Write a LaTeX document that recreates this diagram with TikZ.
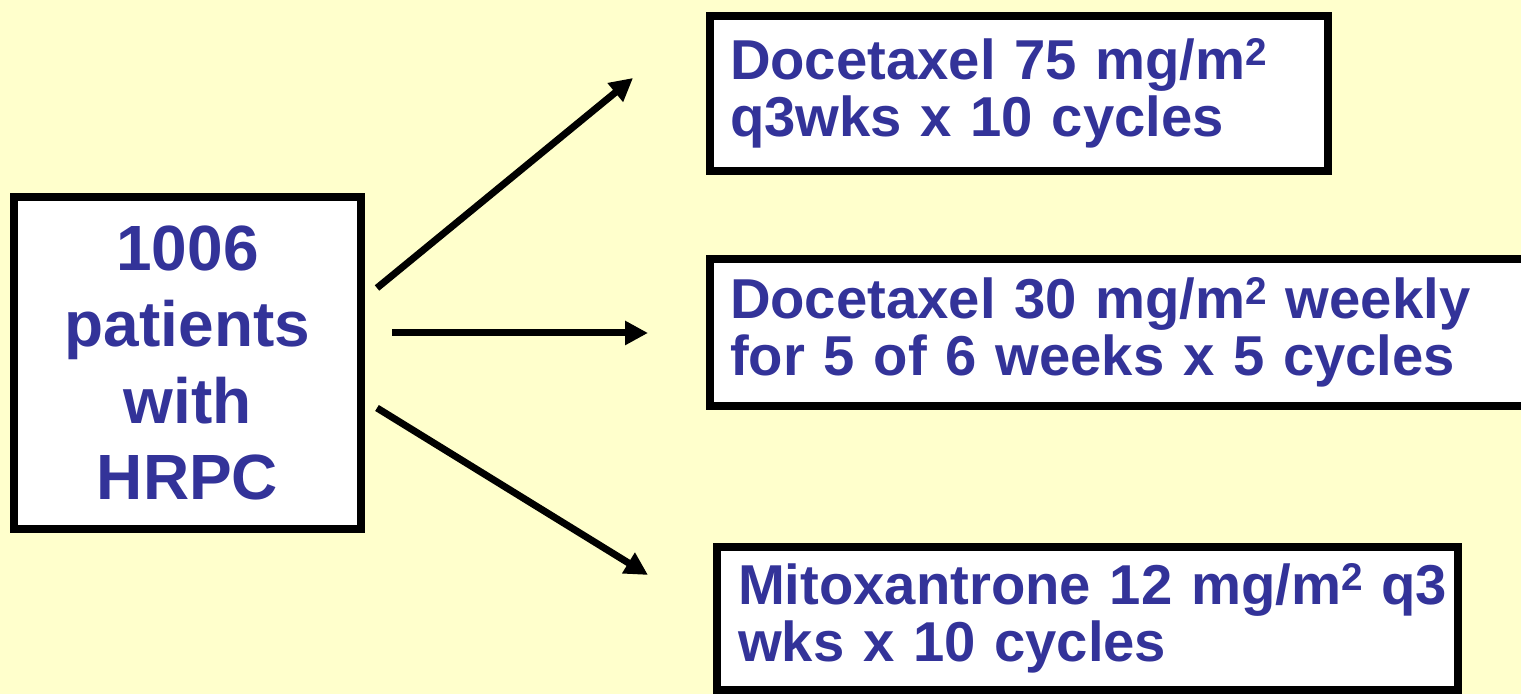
\documentclass[tikz,border=0pt]{standalone}
\usepackage{fontspec}
\setmainfont{Liberation Sans}
\usetikzlibrary{arrows.meta}
\definecolor{slideyellow}{HTML}{FFFFCC}
\definecolor{textblue}{HTML}{333399}
\newcommand{\sqtwo}{\raisebox{4pt}{\fontsize{11}{11}\selectfont 2}}
\tikzset{
  armbox/.style={draw=black,line width=0.08cm,fill=white,outer sep=0pt,anchor=west,
    align=left,inner xsep=0.2cm,inner ysep=0pt,text=textblue,
    font=\bfseries\fontsize{16}{16.2}\selectfont},
  arm/.style={line width=0.07cm,->}
}
\begin{document}
\begin{tikzpicture}[>={Triangle[length=0.23cm,width=0.23cm]}]
\fill [slideyellow] (0,0) rectangle (15.21,6.94);
\clip (0,0) rectangle (15.21,6.94);

\node [draw,line width=0.08cm,fill=white,outer sep=0pt,minimum width=3.47cm,minimum height=3.32cm,
  inner sep=0pt,align=center,text=textblue,font=\bfseries\fontsize{18.2}{21.8}\selectfont]
  (hrpc) at (1.875,3.31) {1006\\patients\\with\\HRPC};

\node [armbox,text width=5.78cm,minimum height=1.55cm] (arm1) at (7.10,6.005)
  {Docetaxel 75 mg/m\sqtwo\\q3wks x 10 cycles};
\node [armbox,text width=7.8cm,minimum height=1.47cm] (arm2) at (7.10,3.615)
  {Docetaxel 30 mg/m\sqtwo{} weekly\\for 5 of 6 weeks x 5 cycles};
\node [armbox,inner xsep=0.21cm,text width=6.99cm,minimum height=1.43cm] (arm3) at (7.17,0.755)
  {\mbox{Mitoxantrone 12 mg/m\sqtwo{} q3}\\wks x 10 cycles};

\coordinate (up0) at (3.77,4.06);
\coordinate (up1) at (6.33,6.16);
\coordinate (mid0) at (3.92,3.61);
\coordinate (mid1) at (6.48,3.61);
\coordinate (low0) at (3.77,2.86);
\coordinate (low1) at (6.48,1.19);

\draw [arm] (up0) -- (up1);
\draw [arm] (mid0) -- (mid1);
\draw [arm] (low0) -- (low1);
\end{tikzpicture}
\end{document}
